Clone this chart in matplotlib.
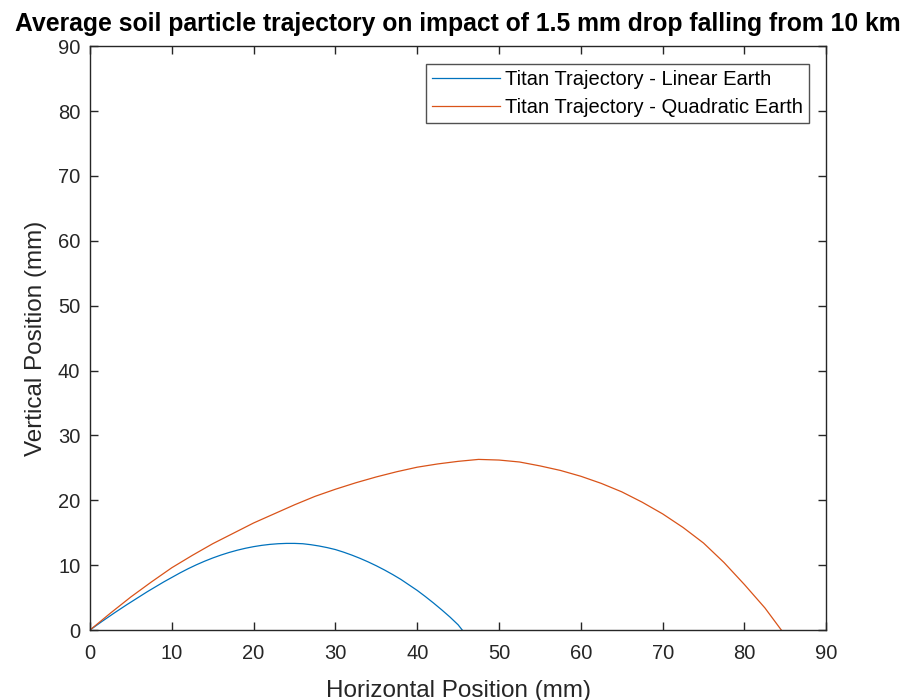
import matplotlib
matplotlib.use("Agg")
import matplotlib.pyplot as plt

# Trajectory samples (mm)
linear_x = [0, 1.5, 3, 4.5, 6, 7, 8, 9, 10, 11, 12, 13, 14, 15, 16, 17, 18, 19, 20,
            21, 22, 23, 24, 25, 26, 27, 28, 29, 30, 31, 32, 33, 34, 35, 36, 37, 38,
            39, 40, 41, 42, 43, 44, 45, 45.5]
linear_y = [0, 1.35, 2.65, 3.9, 5.1, 5.9, 6.65, 7.4, 8.1, 8.8, 9.45, 10.05, 10.6, 11.1,
            11.55, 11.95, 12.3, 12.6, 12.85, 13.05, 13.2, 13.3, 13.35, 13.35, 13.3,
            13.15, 12.95, 12.7, 12.4, 12.0, 11.55, 11.05, 10.5, 9.9, 9.25, 8.55, 7.8,
            6.95, 6.1, 5.15, 4.15, 3.1, 2.0, 0.8, 0]

quad_x = [0, 2.5, 5, 7.5, 10, 12.5, 15, 17.5, 20, 22.5, 25, 27.5, 30, 32.5, 35, 37.5,
          40, 42.5, 45, 47.5, 50, 52.5, 55, 57.5, 60, 62.5, 65, 67.5, 70, 72.5, 75,
          77.5, 80, 82.5, 84.5]
quad_y = [0, 2.6, 5.1, 7.4, 9.6, 11.5, 13.3, 14.9, 16.5, 17.9, 19.3, 20.6, 21.7, 22.7,
          23.6, 24.4, 25.1, 25.6, 26.0, 26.3, 26.2, 25.9, 25.3, 24.6, 23.7, 22.6,
          21.3, 19.7, 17.9, 15.8, 13.4, 10.4, 7.0, 3.4, 0]

plt.rcParams["font.family"] = ["Liberation Sans", "DejaVu Sans"]

fig = plt.figure(figsize=(9.09, 7.0), dpi=100)
ax = fig.add_axes([0.099, 0.1, 0.81, 0.834])

ax.plot(linear_x, linear_y, color="#0072BD", lw=0.9, label="Titan Trajectory - Linear Earth")
ax.plot(quad_x, quad_y, color="#D95319", lw=0.9, label="Titan Trajectory - Quadratic Earth")

ax.set_xlim(0, 90)
ax.set_ylim(0, 90)
ax.set_xticks(range(0, 91, 10))
ax.set_yticks(range(0, 91, 10))

grey = "#262626"
for side in ax.spines.values():
    side.set_color(grey)
    side.set_linewidth(1.0)
ax.tick_params(direction="in", length=6, width=1.0, colors=grey, labelsize=14.5,
               top=True, right=True)
ax.tick_params(axis="x", pad=10)
ax.tick_params(axis="y", pad=7)

ax.set_xlabel("Horizontal Position (mm)", fontsize=17.5, color=grey, labelpad=12)
ax.set_ylabel("Vertical Position (mm)", fontsize=17.5, color=grey, labelpad=8)
ax.set_title("Average soil particle trajectory on impact of 1.5 mm drop falling from 10 km",
             fontsize=17.8, fontweight="bold", pad=11)

leg = ax.legend(loc="upper right", bbox_to_anchor=(0.977, 0.969), fontsize=14.5,
                frameon=True, fancybox=False, handlelength=3.4, handletextpad=0.25,
                borderpad=0.3, labelspacing=0.45, borderaxespad=0)
leg.get_frame().set_edgecolor(grey)
leg.get_frame().set_linewidth(1.0)

fig.savefig("out.png", dpi=100)
